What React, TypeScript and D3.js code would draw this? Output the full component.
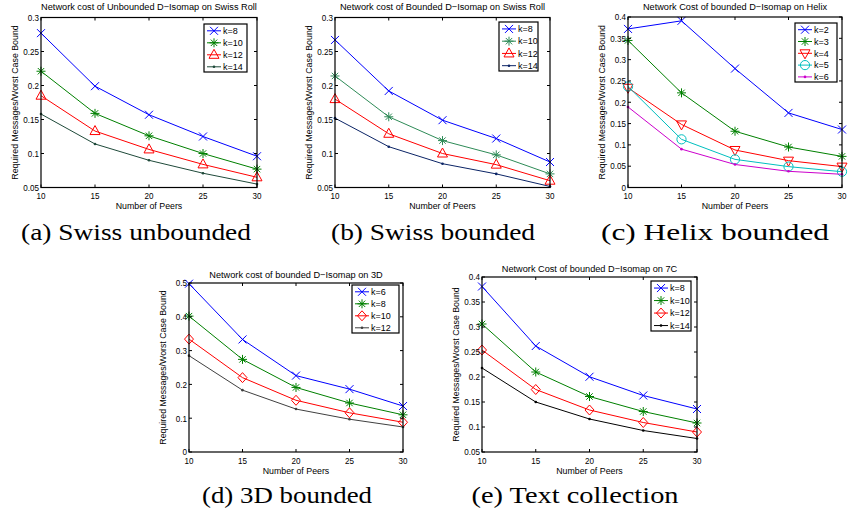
import React from 'react';
import * as d3 from 'd3';

const peers = [10, 15, 20, 25, 30];
const peerTicks = [10, 15, 20, 25, 30];

// (a) Swiss roll, unbounded
const swissUnbLabels = ['k=8', 'k=10', 'k=12', 'k=14'];
const swissUnbK8 = [0.277, 0.199, 0.157, 0.125, 0.096];
const swissUnbK10 = [0.221, 0.159, 0.126, 0.1, 0.077];
const swissUnbK12 = [0.185, 0.133, 0.106, 0.084, 0.065];
const swissUnbK14 = [0.158, 0.114, 0.09, 0.071, 0.055];
const swissYTicks = [0.05, 0.1, 0.15, 0.2, 0.25, 0.3];

// (b) Swiss roll, bounded
const swissBndLabels = ['k=8', 'k=10', 'k=12', 'k=14'];
const swissBndK8 = [0.267, 0.192, 0.149, 0.122, 0.0875];
const swissBndK10 = [0.214, 0.154, 0.119, 0.098, 0.07];
const swissBndK12 = [0.18, 0.129, 0.1, 0.0836, 0.06];
const swissBndK14 = [0.152, 0.11, 0.085, 0.07, 0.0515];

// (c) Helix bounded
const helixLabels = ['k=2', 'k=3', 'k=4', 'k=5', 'k=6'];
const helixK2 = [0.372, 0.391, 0.279, 0.175, 0.136];
const helixK3 = [0.345, 0.222, 0.132, 0.095, 0.073];
const helixK4 = [0.234, 0.148, 0.088, 0.063, 0.049];
const helixK5 = [0.237, 0.113, 0.066, 0.049, 0.037];
const helixK6 = [0.189, 0.09, 0.054, 0.038, 0.031];
const helixYTicks = [0, 0.05, 0.1, 0.15, 0.2, 0.25, 0.3, 0.35, 0.4];

// (d) 3D bounded
const threeDLabels = ['k=6', 'k=8', 'k=10', 'k=12'];
const threeDK6 = [0.498, 0.333, 0.226, 0.186, 0.136];
const threeDK8 = [0.402, 0.274, 0.191, 0.145, 0.11];
const threeDK10 = [0.334, 0.22, 0.153, 0.116, 0.088];
const threeDK12 = [0.285, 0.183, 0.127, 0.097, 0.074];
const threeDYTicks = [0, 0.1, 0.2, 0.3, 0.4, 0.5];

// (e) Text collection
const textLabels = ['k=8', 'k=10', 'k=12', 'k=14'];
const textK8 = [0.381, 0.262, 0.2005, 0.163, 0.136];
const textK10 = [0.306, 0.21, 0.161, 0.131, 0.108];
const textK12 = [0.254, 0.175, 0.134, 0.109, 0.09];
const textK14 = [0.218, 0.15, 0.116, 0.093, 0.077];
const textYTicks = [0.05, 0.1, 0.15, 0.2, 0.25, 0.3, 0.35, 0.4];

const yLabelText = 'Required Messages/Worst Case Bound';
const xLabelText = 'Number of Peers';

type Marker = 'x' | '*' | '^' | 'v' | 'o' | 'd' | '.';
interface Series { label: string; values: number[]; color: string; marker: Marker }
interface PanelCfg {
  x0: number; x1: number; y0: number; y1: number;
  yDomain: [number, number]; yTicks: number[];
  title: string; titleY: number;
  caption: string; capX: number; capY: number; capW: number;
  legend: { x: number; y: number; w: number; h: number };
  series: Series[];
}

const SANS = "'Liberation Sans', Arial, Helvetica, sans-serif";
const SERIF = "'Liberation Serif', 'Times New Roman', serif";

function MarkerShape({ m, color, cx, cy }: { m: Marker; color: string; cx: number; cy: number }) {
  const t = `translate(${cx},${cy})`;
  const common = { stroke: color, strokeWidth: 1, fill: 'none', transform: t };
  switch (m) {
    case 'x':
      return <path d="M-4,-4L4,4M-4,4L4,-4" {...common} />;
    case '*':
      return <path d="M-4.5,0L4.5,0M0,-4.5L0,4.5M-3.2,-3.2L3.2,3.2M-3.2,3.2L3.2,-3.2" {...common} />;
    case '^':
      return <path d="M0,-5.5L5,3.5L-5,3.5Z" {...common} />;
    case 'v':
      return <path d="M0,5.5L5,-3.5L-5,-3.5Z" {...common} />;
    case 'o':
      return <circle r={4.6} {...common} />;
    case 'd':
      return <path d="M0,-5L4.5,0L0,5L-4.5,0Z" {...common} />;
    case '.':
      return <circle r={1.3} fill={color} stroke="none" transform={t} />;
  }
  return null;
}

function Panel({ cfg }: { cfg: PanelCfg }) {
  const x = d3.scaleLinear().domain([10, 30]).range([cfg.x0, cfg.x1]);
  const y = d3.scaleLinear().domain(cfg.yDomain).range([cfg.y1, cfg.y0]);
  const line = d3.line<number>().x((_, i) => x(peers[i])).y((d) => y(d));
  const tk = 3;
  const midX = (cfg.x0 + cfg.x1) / 2;
  const midY = (cfg.y0 + cfg.y1) / 2;
  const lg = cfg.legend;
  const n = cfg.series.length;
  return (
    <g>
      <text x={midX} y={cfg.titleY} textAnchor="middle" fontSize={9.2} fontFamily={SANS} fill="#000">{cfg.title}</text>
      {cfg.series.map((s) => (
        <g key={s.label}>
          <path d={line(s.values) || ''} fill="none" stroke={s.color} strokeWidth={1} />
          {s.values.map((v, i) => (
            <MarkerShape key={i} m={s.marker} color={s.color} cx={x(peers[i])} cy={y(v)} />
          ))}
        </g>
      ))}
      <rect x={cfg.x0} y={cfg.y0} width={cfg.x1 - cfg.x0} height={cfg.y1 - cfg.y0} fill="none" stroke="#000" strokeWidth={1.2} />
      {cfg.yTicks.map((t) => (
        <g key={'y' + t}>
          <line x1={cfg.x0} x2={cfg.x0 + tk} y1={y(t)} y2={y(t)} stroke="#000" strokeWidth={1} />
          <line x1={cfg.x1} x2={cfg.x1 - tk} y1={y(t)} y2={y(t)} stroke="#000" strokeWidth={1} />
          <text transform={`translate(${cfg.x0 - 2},${y(t) + 3.3}) scale(0.85,1)`} textAnchor="end" fontSize={9.5} fontFamily={SANS} fill="#000">{String(t)}</text>
        </g>
      ))}
      {peerTicks.map((t) => (
        <g key={'x' + t}>
          <line x1={x(t)} x2={x(t)} y1={cfg.y1} y2={cfg.y1 - tk} stroke="#000" strokeWidth={1} />
          <line x1={x(t)} x2={x(t)} y1={cfg.y0} y2={cfg.y0 + tk} stroke="#000" strokeWidth={1} />
          <text transform={`translate(${x(t)},${cfg.y1 + 11.5}) scale(0.85,1)`} textAnchor="middle" fontSize={9.5} fontFamily={SANS} fill="#000">{String(t)}</text>
        </g>
      ))}
      <text x={midX} y={cfg.y1 + 21.5} textAnchor="middle" fontSize={8.8} fontFamily={SANS} fill="#000">{xLabelText}</text>
      <text transform={`translate(${cfg.x0 - 26},${midY}) rotate(-90)`} dy="0.35em" textAnchor="middle" fontSize={8.8} fontFamily={SANS} fill="#000">{yLabelText}</text>
      <rect x={lg.x} y={lg.y} width={lg.w} height={lg.h} fill="#fff" stroke="#000" strokeWidth={1.2} />
      {cfg.series.map((s, i) => {
        const ry = lg.y + (i + 0.5) * (lg.h / n) + 0.8;
        return (
          <g key={'lg' + s.label}>
            <line x1={lg.x + 3} x2={lg.x + 17} y1={ry} y2={ry} stroke={s.color} strokeWidth={1} />
            <MarkerShape m={s.marker} color={s.color} cx={lg.x + 10} cy={ry} />
            <text x={lg.x + 19} y={ry + 3.2} fontSize={9} fontFamily={SANS} fill="#000">{s.label}</text>
          </g>
        );
      })}
      <text x={cfg.capX} y={cfg.capY} textAnchor="middle" fontSize={24} fontFamily={SERIF} fill="#000" textLength={cfg.capW} lengthAdjust="spacingAndGlyphs">{cfg.caption}</text>
    </g>
  );
}

const BLUE = '#0000ff';
const GREEN = '#008000';
const RED = '#ff0000';

const panels: PanelCfg[] = [
  {
    x0: 41, x1: 257, y0: 17.5, y1: 187.5, yDomain: [0.05, 0.3], yTicks: swissYTicks,
    title: 'Network cost of Unbounded D\u2212Isomap on Swiss Roll', titleY: 9.5,
    caption: '(a) Swiss unbounded', capX: 136, capY: 240, capW: 230,
    legend: { x: 204, y: 24, w: 43, h: 48 },
    series: [
      { label: swissUnbLabels[0], values: swissUnbK8, color: BLUE, marker: 'x' },
      { label: swissUnbLabels[1], values: swissUnbK10, color: GREEN, marker: '*' },
      { label: swissUnbLabels[2], values: swissUnbK12, color: RED, marker: '^' },
      { label: swissUnbLabels[3], values: swissUnbK14, color: '#1f4a3a', marker: '.' },
    ],
  },
  {
    x0: 335, x1: 550, y0: 17.5, y1: 187.5, yDomain: [0.05, 0.3], yTicks: swissYTicks,
    title: 'Network cost of Bounded D\u2212Isomap on Swiss Roll', titleY: 9.5,
    caption: '(b) Swiss bounded', capX: 433, capY: 240, capW: 204,
    legend: { x: 499, y: 22, w: 39, h: 49 },
    series: [
      { label: swissBndLabels[0], values: swissBndK8, color: BLUE, marker: 'x' },
      { label: swissBndLabels[1], values: swissBndK10, color: '#2e8b57', marker: '*' },
      { label: swissBndLabels[2], values: swissBndK12, color: RED, marker: '^' },
      { label: swissBndLabels[3], values: swissBndK14, color: '#0b2466', marker: '.' },
    ],
  },
  {
    x0: 628, x1: 842, y0: 17, y1: 187.5, yDomain: [0, 0.4], yTicks: helixYTicks,
    title: 'Network Cost of bounded D\u2212Isomap on Helix', titleY: 9.5,
    caption: '(c) Helix bounded', capX: 715, capY: 240, capW: 228,
    legend: { x: 795, y: 23, w: 42, h: 59 },
    series: [
      { label: helixLabels[0], values: helixK2, color: BLUE, marker: 'x' },
      { label: helixLabels[1], values: helixK3, color: GREEN, marker: '*' },
      { label: helixLabels[2], values: helixK4, color: RED, marker: 'v' },
      { label: helixLabels[3], values: helixK5, color: '#00bfbf', marker: 'o' },
      { label: helixLabels[4], values: helixK6, color: '#cc00cc', marker: '.' },
    ],
  },
  {
    x0: 189, x1: 403, y0: 283, y1: 452, yDomain: [0, 0.5], yTicks: threeDYTicks,
    title: 'Network cost of bounded D\u2212Isomap on 3D', titleY: 277.5,
    caption: '(d) 3D bounded', capX: 287, capY: 503, capW: 170,
    legend: { x: 352, y: 285, w: 47, h: 48 },
    series: [
      { label: threeDLabels[0], values: threeDK6, color: BLUE, marker: 'x' },
      { label: threeDLabels[1], values: threeDK8, color: GREEN, marker: '*' },
      { label: threeDLabels[2], values: threeDK10, color: RED, marker: 'd' },
      { label: threeDLabels[3], values: threeDK12, color: '#404040', marker: '.' },
    ],
  },
  {
    x0: 482, x1: 697, y0: 277, y1: 452, yDomain: [0.05, 0.4], yTicks: textYTicks,
    title: 'Network Cost of bounded D\u2212Isomap on 7C', titleY: 272,
    caption: '(e) Text collection', capX: 575, capY: 503, capW: 207,
    legend: { x: 651, y: 281, w: 40, h: 50 },
    series: [
      { label: textLabels[0], values: textK8, color: BLUE, marker: 'x' },
      { label: textLabels[1], values: textK10, color: GREEN, marker: '*' },
      { label: textLabels[2], values: textK12, color: RED, marker: 'd' },
      { label: textLabels[3], values: textK14, color: '#000000', marker: '.' },
    ],
  },
];

export default function App() {
  return (
    <svg width={849} height={513} style={{ position: 'absolute', left: 0, top: 0, background: '#fff' }}>
      <rect x={0} y={0} width={849} height={513} fill="#fff" />
      {panels.map((p, i) => (
        <Panel key={i} cfg={p} />
      ))}
    </svg>
  );
}
